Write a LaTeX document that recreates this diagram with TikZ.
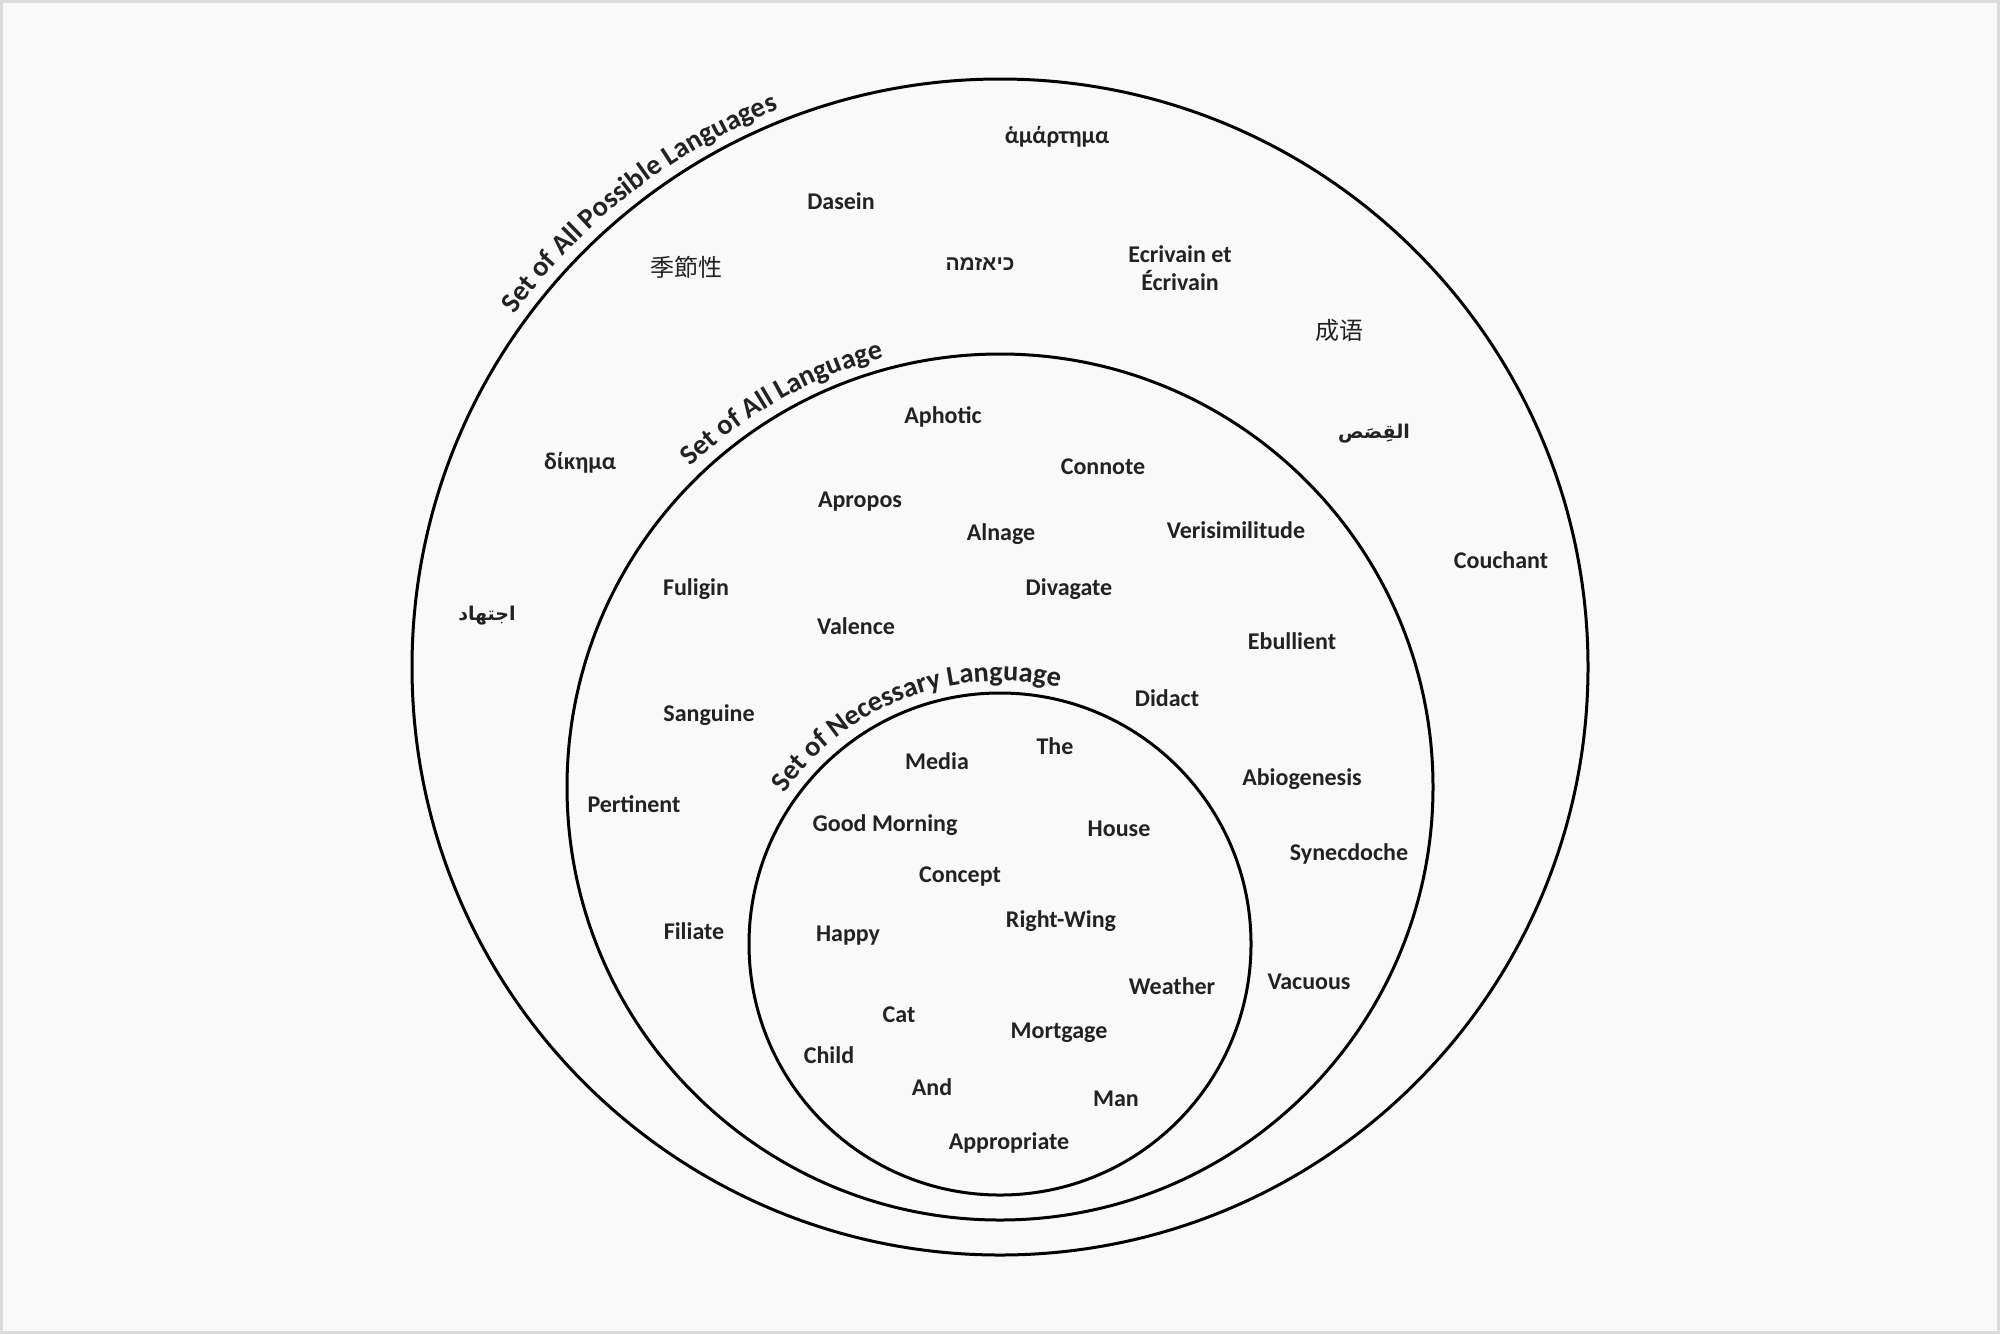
\documentclass[tikz,border=0pt]{standalone}
\usepackage{fontspec}
\setmainfont{Carlito}
\newfontfamily\hebfont[Script=Hebrew]{Liberation Sans}
\newfontfamily\arabicfont[Script=Arabic]{DejaVu Sans}
\newfontfamily\cjkjp{Noto Sans CJK JP}
\newfontfamily\cjksc{Noto Sans CJK SC}
\TeXXeTstate=1
\usetikzlibrary{decorations.text}
\definecolor{bgc}{HTML}{F9F9F9}
\definecolor{framec}{HTML}{DCDCDC}
\definecolor{txt}{HTML}{222222}
\newcommand{\curvefont}{\fontsize{14.2}{16}\selectfont\bfseries}
\begin{document}
\begin{tikzpicture}[x=0.5pt,y=-0.5pt,
  word/.style={font=\fontsize{12}{14}\selectfont\bfseries, text=txt, inner sep=0pt, align=center},
  cjkword/.style={font=\fontsize{12}{14}\selectfont, text=txt, inner sep=0pt},
  arword/.style={font=\fontsize{9.5}{12}\selectfont\arabicfont\bfseries, text=txt, inner sep=0pt},
  heword/.style={font=\fontsize{10.5}{12}\selectfont\hebfont\bfseries, text=txt, inner sep=0pt},
  ring/.style={draw=black, line width=1.5pt},
  curvelabel/.style={decorate, decoration={text along path, text align=left, text color=txt, text={|\curvefont|#1}}}
]
\fill[framec] (0,0) rectangle (2000,1334);
\fill[bgc] (3,3) rectangle (1997,1331);
\useasboundingbox (0,0) rectangle (2000,1334);

% circles
\coordinate (cA) at (1000,667);
\coordinate (cB) at (1000,787);
\coordinate (cC) at (1000,944);
\draw[ring] (cA) circle[radius=294pt];
\draw[ring] (cB) circle[radius=216.5pt];
\draw[ring] (cC) circle[radius=125.5pt];

% curved labels
\path[curvelabel={Set of All Possible Languages}] (cA) ++(144:300pt) arc[start angle=144, end angle=60, radius=300pt];
\path[curvelabel={Set of All Language}] (cB) ++(134:222.5pt) arc[start angle=134, end angle=40, radius=222.5pt];
\path[curvelabel={Set of Necessary Language}] (cC) ++(145:131.5pt) arc[start angle=145, end angle=20, radius=131.5pt];

% outer ring words
\node[word] (hamartema) at (1057,137) {ἁμάρτημα};
\node[word] (dasein) at (841,201) {Dasein};
\node[cjkword] (kisetsu) at (686,267) {\cjkjp 季節性};
\node[heword] (chiasma) at (980,264) {\beginR כיאזמה\endR};
\node[word] (ecrivain) at (1180,268) {Ecrivain et\\Écrivain};
\node[cjkword] (chengyu) at (1339,330) {\cjksc 成语};
\node[arword] (qasas) at (1374,434) {\beginR القِصَص\endR};
\node[word] (dikema) at (580,463) {δίκημα};
\node[arword] (ijtihad) at (487,616) {\beginR اجتهاد\endR};
\node[word] (couchant) at (1501,560) {Couchant};

% middle ring words
\node[word] (aphotic) at (943,417) {Aphotic};
\node[word] (connote) at (1103,467) {Connote};
\node[word] (apropos) at (860,502) {Apropos};
\node[word] (alnage) at (1001,534) {Alnage};
\node[word] (verisim) at (1236,530) {Verisimilitude};
\node[word] (fuligin) at (696,589) {Fuligin};
\node[word] (divagate) at (1069,589) {Divagate};
\node[word] (valence) at (856,626) {Valence};
\node[word] (ebullient) at (1292,641) {Ebullient};
\node[word] (sanguine) at (709,715) {Sanguine};
\node[word] (didact) at (1167,698) {Didact};
\node[word] (abiogen) at (1302,779) {Abiogenesis};
\node[word] (pertinent) at (634,804) {Pertinent};
\node[word] (synecdoche) at (1349,854) {Synecdoche};
\node[word] (filiate) at (694,931) {Filiate};
\node[word] (vacuous) at (1309,982) {Vacuous};

% inner ring words
\node[word] (media) at (937,761) {Media};
\node[word] (the) at (1055,746) {The};
\node[word] (goodmorning) at (885,825) {Good Morning};
\node[word] (house) at (1119,829) {House};
\node[word] (concept) at (960,876) {Concept};
\node[word] (rightwing) at (1061,921) {Right-Wing};
\node[word] (happy) at (848,936) {Happy};
\node[word] (weather) at (1172,986) {Weather};
\node[word] (cat) at (899,1015) {Cat};
\node[word] (mortgage) at (1059,1033) {Mortgage};
\node[word] (child) at (829,1055) {Child};
\node[word] (and) at (932,1087) {And};
\node[word] (man) at (1116,1099) {Man};
\node[word] (appropriate) at (1009,1143) {Appropriate};
\end{tikzpicture}
\end{document}
